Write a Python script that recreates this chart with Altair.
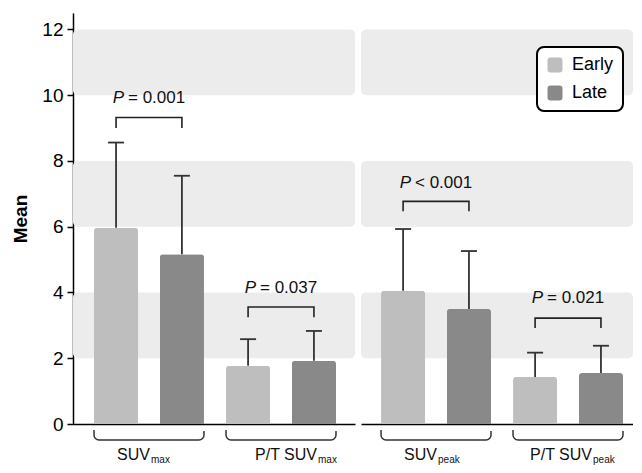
import altair as alt
import pandas as pd

# ---------------- data ----------------
categories = ["SUVmax", "P/T SUVmax", "SUVpeak", "P/T SUVpeak"]
phases = ["Early", "Late"]
mean_early = [5.97, 1.77, 4.05, 1.43]
mean_late = [5.16, 1.92, 3.50, 1.55]
sd_top_early = [8.56, 2.58, 5.93, 2.17]
sd_top_late = [7.55, 2.83, 5.26, 2.38]
label_main = ["SUV", "P/T SUV", "SUV", "P/T SUV"]
label_sub = ["max", "max", "peak", "peak"]
p_text = ["= 0.001", "= 0.037", "< 0.001", "= 0.021"]
bracket_top = [9.32, 3.56, 6.77, 3.22]
bracket_end = [9.00, 3.25, 6.47, 2.92]
p_y = [9.90, 4.13, 7.33, 3.83]
band_lo = [2, 6, 10]
band_hi = [4, 8, 12]
y_ticks = [0, 2, 4, 6, 8, 10, 12]

# ---------------- style ----------------
FONT = "Liberation Sans"
H = 411
EARLY_C = "#bebebe"
LATE_C = "#898989"
LINE_C = "#333333"
label_dx = {"SUVmax": 1, "P/T SUVmax": 36, "SUVpeak": 1, "P/T SUVpeak": 24}
rounded_square = ("M -0.6 -1 L 0.6 -1 Q 1 -1 1 -0.6 L 1 0.6 Q 1 1 0.6 1 "
                  "L -0.6 1 Q -1 1 -1 0.6 L -1 -0.6 Q -1 -1 -0.6 -1 Z")

bars_rows, brk_rows, info_rows = [], [], []
for i, c in enumerate(categories):
    bars_rows.append({"cat": c, "phase": "Early", "mean": mean_early[i], "top": sd_top_early[i]})
    bars_rows.append({"cat": c, "phase": "Late", "mean": mean_late[i], "top": sd_top_late[i]})
    brk_rows += [
        {"cat": c, "phase": "Early", "v": bracket_end[i], "o": 0},
        {"cat": c, "phase": "Early", "v": bracket_top[i], "o": 1},
        {"cat": c, "phase": "Late", "v": bracket_top[i], "o": 2},
        {"cat": c, "phase": "Late", "v": bracket_end[i], "o": 3},
    ]
    info_rows.append({"cat": c, "main": label_main[i], "sub": label_sub[i],
                      "ptext": p_text[i], "py": p_y[i]})
bars_df = pd.DataFrame(bars_rows)
brk_df = pd.DataFrame(brk_rows)
info_df = pd.DataFrame(info_rows)
band_df = pd.DataFrame({"lo": band_lo, "hi": band_hi})


def panel(cats, width, pad_outer, align, show_axis, show_legend):
    xs = alt.Scale(domain=cats, paddingInner=0.167, paddingOuter=pad_outer, align=align)
    xaxis = alt.Axis(labels=False, ticks=False, title=None, grid=False,
                     domainColor="black", domainWidth=1.5)
    X = alt.X("cat:N", scale=xs, axis=xaxis)
    XO = alt.XOffset("phase:N", scale=alt.Scale(domain=phases, paddingInner=0.33, paddingOuter=0))
    ys = alt.Scale(domain=[0, 12.5], nice=False, zero=True)
    if show_axis:
        yaxis = alt.Axis(values=y_ticks, title="Mean", titleFontSize=19, titleFontWeight="bold",
                         titleColor="black", titleFont=FONT, labelFont=FONT, labelFontSize=19,
                         labelColor="black", tickSize=6, tickColor="black", tickWidth=1.5,
                         domainColor="black", domainWidth=1.5, labelPadding=4,
                         titlePadding=11, grid=False)
    else:
        yaxis = None

    def Y(field):
        return alt.Y(field, scale=ys, axis=yaxis)

    bdf = bars_df[bars_df["cat"].isin(cats)]
    kdf = brk_df[brk_df["cat"].isin(cats)]
    idf = info_df[info_df["cat"].isin(cats)]

    bands = alt.Chart(band_df).mark_rect(color="#ececec", cornerRadius=5).encode(
        y=Y("lo:Q"), y2="hi:Q")

    if show_legend:
        leg = alt.Legend(title=None, orient="none", legendX=176, legendY=34,
                         symbolType=rounded_square, symbolSize=225, symbolStrokeWidth=0,
                         symbolOpacity=1, labelFont=FONT, labelFontSize=18, labelColor="black",
                         rowPadding=10, padding=9, labelOffset=8, strokeColor="black",
                         cornerRadius=7, fillColor="white")
    else:
        leg = None
    bars = alt.Chart(bdf).mark_bar(cornerRadiusTopLeft=3, cornerRadiusTopRight=3).encode(
        x=X, xOffset=XO, y=Y("mean:Q"),
        color=alt.Color("phase:N", scale=alt.Scale(domain=phases, range=[EARLY_C, LATE_C]),
                        legend=leg))
    err = alt.Chart(bdf).mark_rule(color=LINE_C, strokeWidth=1.8).encode(
        x=X, xOffset=XO, y=Y("mean:Q"), y2="top:Q")
    caps = alt.Chart(bdf).mark_tick(color=LINE_C, size=16, thickness=1.8, opacity=1).encode(
        x=X, xOffset=XO, y=Y("top:Q"))
    brk = alt.Chart(kdf).mark_line(color="#222222", strokeWidth=1.6).encode(
        x=X, xOffset=XO, y=Y("v:Q"), order="o:Q", detail="cat:N")
    p_it = alt.Chart(idf).mark_text(font=FONT, fontSize=17, fontStyle="italic", align="right",
                                    baseline="middle", dx=-25, color="#111111").encode(
        x=X, y=Y("py:Q"), text=alt.value("P"))
    p_rest = alt.Chart(idf).mark_text(font=FONT, fontSize=17, align="left",
                                      baseline="middle", dx=-21, color="#111111").encode(
        x=X, y=Y("py:Q"), text="ptext:N")

    layers = [bands, bars, err, caps, brk, p_it, p_rest]
    for c in cats:
        sdf = idf[idf["cat"] == c]
        bw = 110
        brace = alt.Chart(sdf).mark_bar(fill="transparent", stroke=LINE_C, strokeWidth=1.5,
                                        cornerRadiusBottomLeft=7, cornerRadiusBottomRight=7,
                                        strokeDash=[0, bw + 1, 800]).encode(
            x=X, y=alt.value(H + 6), y2=alt.value(H + 16))
        main = alt.Chart(sdf).mark_text(font=FONT, fontSize=16, align="right",
                                        baseline="alphabetic", dx=label_dx[c],
                                        color="#111111").encode(
            x=X, y=alt.value(H + 36), text="main:N")
        sub = alt.Chart(sdf).mark_text(font=FONT, fontSize=10, align="left",
                                       baseline="alphabetic", dx=label_dx[c] + 1,
                                       color="#111111").encode(
            x=X, y=alt.value(H + 39), text="sub:N")
        layers += [brace, main, sub]

    return alt.layer(*layers).properties(width=width, height=H)


left = panel(categories[:2], 282, 0.1515, 0.525, True, False)
right = panel(categories[2:], 272, 0.1138, 0.667, False, True)

chart = alt.hconcat(left, right, spacing=6).resolve_scale(
    x="independent", color="independent").resolve_legend(color="independent").properties(
    padding={"left": 3, "top": 5, "right": 0, "bottom": 0},
    background="white",
).configure_view(stroke=None).configure_legend(strokeWidth=2)

chart.save("out.html", embed_options={"renderer": "svg", "actions": False})
